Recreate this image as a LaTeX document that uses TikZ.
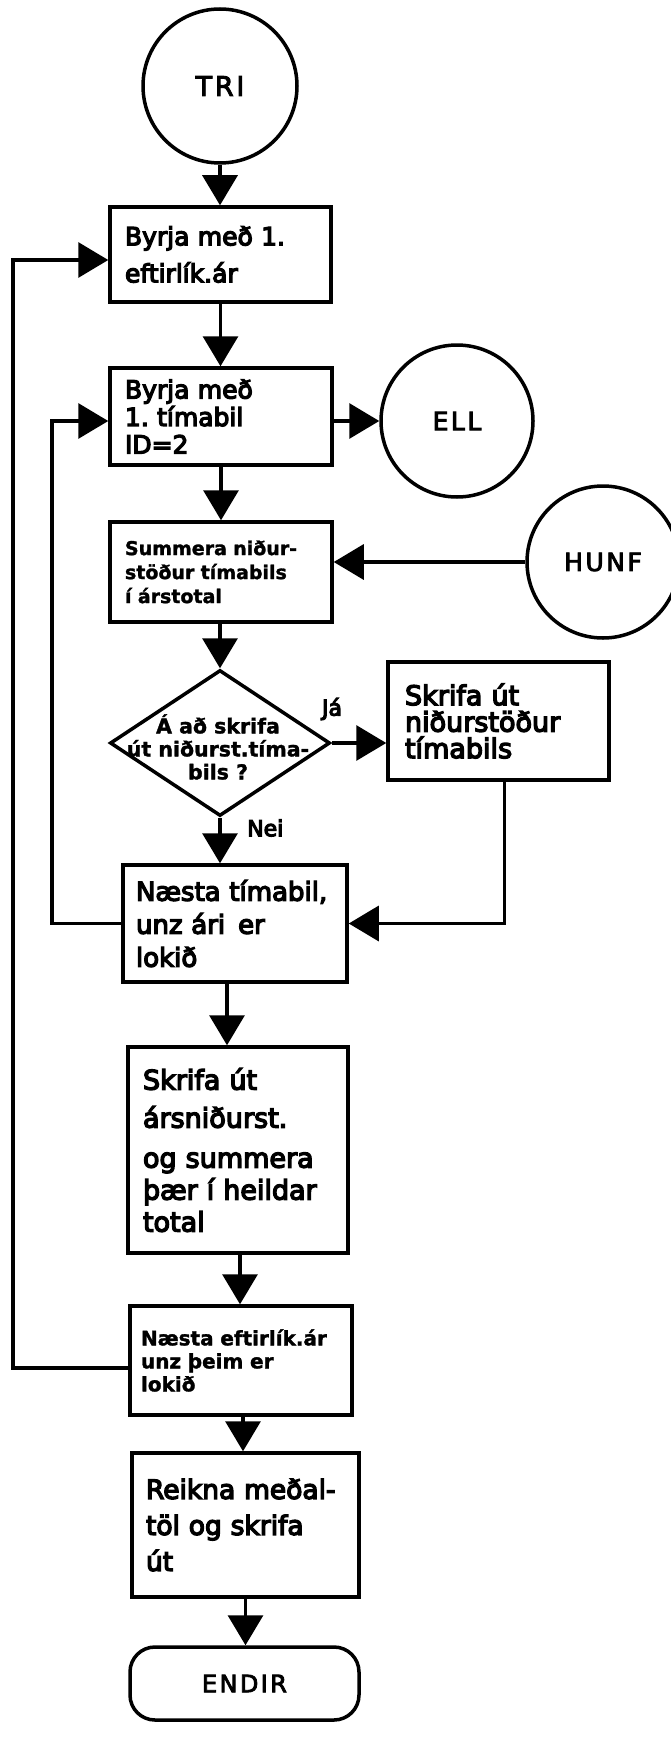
\documentclass[tikz,border=0pt]{standalone}
\usepackage{fontspec}
\setmainfont{DejaVu Sans}[UprightFeatures={FakeBold=5}, BoldFeatures={FakeBold=1.5}]
\newfontfamily\wideletters{DejaVu Sans}[LetterSpace=10,FakeBold=3.5]
\usetikzlibrary{arrows.meta,shapes.geometric}
\frenchspacing
\begin{document}
\begin{tikzpicture}[x=1pt,y=-1pt,
  box/.style={draw, line width=3.5pt, rectangle, align=left, inner ysep=0pt, inner xsep=15pt},
  term/.style={draw, line width=3.5pt, circle, inner sep=0pt, font=\wideletters\fontsize{25}{30}\selectfont},
  flow/.style={line width=3.2pt, -{Triangle[length=30pt,width=35pt]}},
  lbl/.style={font=\fontsize{22}{26}\selectfont, inner sep=0pt}
]
\fill[white] (0,0) rectangle (670,1739);
\useasboundingbox (0,0) rectangle (670,1739);

% start and connector circles
\node[term, minimum size=154pt, font=\wideletters\fontsize{27}{30}\selectfont] (tri) at (220,86) {TRI};
\node[term, minimum size=152pt] (ell) at (457,421) {ELL};
\node[term, minimum size=152pt] (hunf) at (603,562) {HUNF};

% process boxes
\node[box, minimum height=95pt, text width=191pt, font=\fontsize{25}{37}\selectfont]
  (b1) at (220.5,254.5) {Byrja með 1.\\eftirlík.ár};
\node[box, minimum height=97pt, text width=192pt, font=\fontsize{25}{27.5}\selectfont]
  (b2) at (221,416.5) {Byrja með\\1. tímabil\\ID=2};
\node[box, minimum height=100pt, text width=192pt, font=\bfseries\fontsize{19}{24}\selectfont]
  (b3) at (221,572) {Summera niður-\\stöður tímabils\\í árstotal};
\node[draw, diamond, line width=3.5pt, minimum width=220pt, minimum height=146pt, inner sep=0pt]
  (dec) at (220,743) {};
\node[align=center, inner sep=0pt, font=\bfseries\fontsize{20.5}{23}\selectfont]
  (dectext) at (218,747) {Á að skrifa\\út niðurst.tíma-\\bils ?};
\node[box, minimum height=118pt, inner xsep=17pt, text width=187pt, font=\fontsize{27}{26.5}\selectfont]
  (b4) at (498.5,721) {Skrifa út\\niðurstöður\\tímabils};
\node[box, minimum height=117pt, inner xsep=13pt, text width=198pt, font=\fontsize{26}{33}\selectfont]
  (b5) at (235,923.5) {Næsta tímabil,\\unz ári\, er\\lokið};
\node[box, minimum height=206pt, text width=190pt, font=\fontsize{27}{32}\selectfont]
  (b6) at (238,1150) {Skrifa út\\[6pt]ársniðurst.\\[8pt]og summera\\þær í heildar\\total};
\node[box, minimum height=109pt, inner xsep=11pt, text width=200pt, font=\bfseries\fontsize{20}{23}\selectfont]
  (b7) at (241,1360.5) {Næsta eftirlík.ár\\unz þeim er\\lokið};
\node[box, minimum height=144pt, inner xsep=14pt, text width=199pt, font=\fontsize{26.5}{36}\selectfont]
  (b8) at (245.5,1525) {Reikna meðal-\\töl og skrifa\\út};
\node[draw, line width=3.5pt, rectangle, rounded corners=25pt, minimum width=229pt, minimum height=73pt,
  font=\wideletters\fontsize{24}{28}\selectfont] (endir) at (244.5,1683.5) {ENDIR};

% branch labels
\node[lbl] (ja) at (332,709) {Já};
\node[lbl, anchor=west] (nei) at (247,828) {Nei};

% loop-back columns
\coordinate (inner) at (52,0);
\coordinate (outer) at (13,0);

% connectors
\draw[flow] (tri.south) -- (tri.south |- b1.north);
\draw[flow] (b1.south) -- (b1.south |- b2.north);
\draw[flow] (b2.east |- ell.west) -- (ell.west);
\draw[flow] (b2.south) -- (b2.south |- b3.north);
\draw[flow] (hunf.west) -- (hunf.west -| b3.east);
\draw[flow] (b3.south -| dec.north) -- (dec.north);
\draw[flow] (dec.east) -- (dec.east -| b4.west);
\draw[flow] (dec.south) -- (dec.south |- b5.north);
\draw[flow] ([xshift=6pt]b4.south) |- (b5.east);
\draw[flow] (b5.west) -- (b5.west -| inner) |- ([yshift=-4.5pt]b2.west);
\draw[flow] ([xshift=-8pt]b5.south) -- ([xshift=-8pt]b5.south |- b6.north);
\draw[flow] ([xshift=2pt]b6.south) -- ([xshift=2pt]b6.south |- b7.north);
\draw[flow] ([yshift=-7.5pt]b7.west) -- ([yshift=-7.5pt]b7.west -| outer) |- ([yshift=-5.5pt]b1.west);
\draw[flow] ([xshift=2pt]b7.south) -- ([xshift=2pt]b7.south |- b8.north);
\draw[flow] (b8.south) -- (b8.south |- endir.north);
\end{tikzpicture}
\end{document}
